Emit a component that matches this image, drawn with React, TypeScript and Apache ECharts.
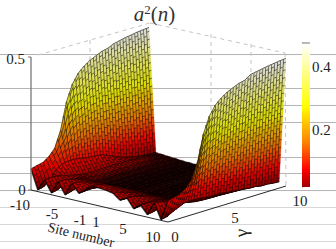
import React, { useEffect, useRef } from "react";
import * as echarts from "echarts";

const sites = [-10, -9, -8, -7, -6, -5, -4, -3, -2, -1, 1, 2, 3, 4, 5, 6, 7, 8, 9, 10];
const gammas = [0, 0.5, 1, 1.5, 2, 2.5, 3, 3.5, 4, 4.5, 5, 5.5, 6, 6.5, 7, 7.5, 8, 8.5, 9, 9.5, 10];
// a^2(n): one row per gamma, one column per site
const amp: number[][] = [
  [.08, .007, .05, .007, .055, .012, .06, .03, .05, .07, .065, .06, .04, .055, .02, .04, .01, .06, .003, .08],
  [.085, .012, .052, .012, .055, .018, .058, .032, .05, .066, .062, .056, .04, .052, .024, .04, .014, .056, .008, .085],
  [.09, .03, .05, .022, .05, .026, .052, .034, .046, .06, .056, .05, .038, .046, .028, .038, .02, .05, .02, .09],
  [.105, .06, .045, .03, .044, .03, .045, .032, .04, .05, .048, .042, .034, .04, .03, .034, .025, .04, .03, .105],
  [.13, .075, .04, .032, .036, .03, .036, .028, .032, .04, .038, .034, .03, .032, .026, .03, .024, .034, .04, .13],
  [.19, .08, .034, .03, .028, .024, .028, .022, .024, .028, .028, .026, .024, .024, .02, .022, .02, .028, .042, .19],
  [.29, .08, .03, .024, .018, .014, .014, .01, .012, .014, .014, .014, .014, .014, .012, .014, .014, .024, .04, .29],
  [.35, .078, .026, .02, .012, .008, .007, .005, .006, .006, .006, .006, .007, .007, .007, .009, .01, .018, .038, .35],
  [.385, .072, .026, .018, .011, .007, .005, .004, .004, .004, .004, .004, .005, .006, .006, .008, .01, .016, .036, .385],
  [.405, .07, .026, .018, .011, .006, .004, .003, .003, .003, .003, .003, .004, .005, .005, .007, .009, .015, .035, .405],
  [.42, .068, .027, .018, .011, .006, .004, .003, .003, .003, .003, .003, .004, .004, .005, .006, .009, .014, .035, .42],
  [.43, .064, .027, .018, .011, .006, .004, .003, .002, .002, .002, .003, .003, .004, .004, .006, .008, .014, .03, .43],
  [.44, .055, .027, .018, .011, .006, .004, .003, .002, .002, .002, .002, .003, .004, .004, .005, .008, .013, .03, .44],
  [.445, .045, .026, .018, .011, .006, .004, .002, .002, .002, .002, .002, .003, .003, .004, .005, .007, .012, .025, .445],
  [.455, .035, .025, .018, .011, .006, .004, .002, .002, .002, .002, .002, .002, .003, .004, .005, .007, .012, .025, .46],
  [.46, .028, .024, .017, .011, .006, .004, .002, .002, .002, .002, .002, .002, .003, .003, .005, .006, .011, .02, .464],
  [.465, .022, .022, .016, .01, .006, .004, .002, .002, .002, .002, .002, .002, .003, .003, .004, .006, .01, .02, .468],
  [.468, .018, .02, .014, .009, .006, .003, .002, .002, .001, .001, .002, .002, .002, .003, .004, .005, .01, .015, .472],
  [.472, .015, .016, .012, .008, .005, .003, .002, .001, .001, .001, .001, .002, .002, .003, .004, .005, .009, .015, .475],
  [.474, .013, .012, .01, .007, .004, .003, .002, .001, .001, .001, .001, .002, .002, .002, .003, .004, .008, .012, .478],
  [.476, .012, .01, .008, .006, .004, .003, .002, .001, .001, .001, .001, .001, .002, .002, .003, .004, .007, .01, .48],
];
const colorStops: [number, string][] = [
  [0, "#180000"], [0.012, "#500000"], [0.019, "#a00000"], [0.073, "#ff0000"],
  [0.16, "#ff8000"], [0.275, "#ffff00"], [0.476, "#ffffff"],
];
const barRange = [0.019, 0.476];
const barTicks = [0.2, 0.4];
const zTicks = [{ t: "0.5", x: 15.5, y: 59 }, { t: "0", x: 22, y: 190 }];
const siteLabels = [
  { t: "-10", x: 20, y: 205 }, { t: "-5", x: 52, y: 214 }, { t: "-1", x: 80, y: 220 },
  { t: "1", x: 96, y: 222 }, { t: "5", x: 123, y: 229 }, { t: "10", x: 153, y: 237 },
];
const gammaLabels = [
  { t: "0", x: 175, y: 237 }, { t: "5", x: 235, y: 218 }, { t: "10", x: 300, y: 201 },
];
const bgLines = [54.5, 88.5, 105.5, 122.5, 157.5, 173.5, 190.5, 207.5, 224.5, 241.5];

const px = (s: number, g: number) => 31 + (s + 10) * 6.85 + g * 11.8;
const py = (s: number, g: number, z: number) => 190 + (s + 10) * 1.6 - g * 3.6 - z * 266;

function hex(c: string) {
  return [1, 3, 5].map((k) => parseInt(c.slice(k, k + 2), 16));
}
function colorOf(z: number, shade = 1) {
  for (let k = 1; k < colorStops.length; k++) {
    if (z <= colorStops[k][0]) {
      const [a, ca] = colorStops[k - 1];
      const [b, cb] = colorStops[k];
      const f = Math.max(0, (z - a) / (b - a));
      const A = hex(ca), B = hex(cb);
      return `rgb(${A.map((v, q) => Math.round((v + (B[q] - v) * f) * shade)).join(",")})`;
    }
  }
  return `rgb(${Math.round(255 * shade)},${Math.round(255 * shade)},${Math.round(255 * shade)})`;
}

const cells: number[][] = [];
for (let j = gammas.length - 2; j >= 0; j--) for (let i = 0; i < sites.length - 1; i++) cells.push([i, j]);

function renderCell(_: any, api: any) {
  const i = api.value(0), j = api.value(1);
  const s0 = sites[i], s1 = sites[i + 1], g0 = gammas[j], g1 = gammas[j + 1];
  const z00 = amp[j][i], z10 = amp[j][i + 1], z01 = amp[j + 1][i], z11 = amp[j + 1][i + 1];
  const span = Math.max(Math.abs(z10 - z00), Math.abs(z11 - z01)) * 266;
  const nS = Math.max(2, Math.ceil(span / 8));
  const nG = 2;
  const zAt = (u: number, v: number) =>
    z00 * (1 - u) * (1 - v) + z10 * u * (1 - v) + z01 * (1 - u) * v + z11 * u * v;
  const P = (u: number, v: number) => {
    const s = s0 + (s1 - s0) * u, g = g0 + (g1 - g0) * v;
    return [px(s, g), py(s, g, zAt(u, v))];
  };
  const children: any[] = [];
  for (let b = nG - 1; b >= 0; b--) {
    const cuts = [0];
    const shift = b % 2 ? 0.5 : 0;
    for (let a = 0; a < nS + 1; a++) {
      const c = (a + shift) / nS;
      if (c > 0 && c < 1) cuts.push(c);
    }
    cuts.push(1);
    const v0 = b / nG, v1 = (b + 1) / nG;
    for (let a = 0; a < cuts.length - 1; a++) {
      const u0 = cuts[a], u1 = cuts[a + 1];
      const fill = colorOf(zAt((u0 + u1) / 2, (v0 + v1) / 2), 0.86);
      children.push({
        type: "polygon",
        shape: { points: [P(u0, v0), P(u1, v0), P(u1, v1), P(u0, v1)] },
        style: { fill, stroke: fill, lineWidth: 0.3 },
      });
    }
    // wires: the ones running across the sites are heavy, the cross wires light
    for (let a = 0; a < cuts.length; a++) {
      children.push({
        type: "polyline",
        shape: { points: [P(cuts[a], v0), P(cuts[a], v1)] },
        style: { fill: "none", stroke: "rgba(0,0,0,0.6)", lineWidth: 0.9 },
      });
    }
    children.push({
      type: "polyline",
      shape: { points: [P(0, v0), P(1, v0)] },
      style: { fill: "none", stroke: "rgba(0,0,0,0.72)", lineWidth: 1.6 },
    });
  }
  return { type: "group", children };
}

const frameColor = "#777";
function dash(x1: number, y1: number, x2: number, y2: number) {
  return {
    type: "line", z: 1, silent: true,
    shape: { x1, y1, x2, y2 },
    style: { stroke: "#c4c4c4", lineWidth: 1, lineDash: [4, 4] },
  };
}
function line(x1: number, y1: number, x2: number, y2: number, stroke: string, lineWidth = 1) {
  return { type: "line", z: 5, silent: true, shape: { x1, y1, x2, y2 }, style: { stroke, lineWidth } };
}
const serif = "'Liberation Serif'";
function label(t: string, x: number, y: number, size = 15, rotation = 0) {
  return {
    type: "text", z: 6, silent: true, x, y, rotation,
    style: {
      text: t, fontFamily: serif, fontSize: size, fill: "#222", align: "center",
      verticalAlign: "middle", lineHeight: 12,
    },
  };
}

export default function App() {
  const ref = useRef<HTMLDivElement>(null);
  useEffect(() => {
    const chart = echarts.init(ref.current!, undefined, { renderer: "svg" });
    const gradient = {
      type: "linear", x: 0, y: 1, x2: 0, y2: 0,
      colorStops: colorStops
        .filter((c) => c[0] >= barRange[0])
        .map((c) => ({ offset: (c[0] - barRange[0]) / (barRange[1] - barRange[0]), color: c[1] })),
    };
    chart.setOption({
      animation: false,
      backgroundColor: "#fff",
      grid: { left: 302, top: 43, width: 8, height: 144 },
      xAxis: { type: "value", min: 0, max: 1, show: false },
      yAxis: {
        type: "value", position: "right", min: barRange[0], max: barRange[1],
        splitLine: { show: false },
        axisLine: { show: true, lineStyle: { color: frameColor, width: 1 } },
        axisTick: { show: false },
        axisLabel: {
          customValues: barTicks, formatter: (v: number) => v.toFixed(1), margin: 2,
          fontFamily: serif, fontSize: 15, color: "#222",
        },
      },
      graphic: [
        ...bgLines.map((y) => ({
          type: "line", z: 0, silent: true,
          shape: { x1: 0, y1: y, x2: 336, y2: y },
          style: { stroke: y > 200 ? "#d8d8d8" : "#b4b4b4", lineWidth: 1 },
        })),
        dash(38, 55, 150, 23), dash(150, 23, 285, 53), dash(285, 53, 286, 186),
        dash(90, 40, 90, 172), dash(211, 34, 211, 168), dash(251, 44, 251, 178),
        line(31, 57, 31, 190, frameColor, 1.3), line(28, 57, 31, 57, frameColor, 1),
        line(28, 190, 31, 190, frameColor, 1),
        line(31, 190, 168, 222, "#111", 0.9), line(168, 222, 286, 186, "#111", 0.9),
        line(302, 43, 310, 43, frameColor, 1),
        ...zTicks.map((l) => label(l.t, l.x, l.y)),
        ...siteLabels.map((l) => label(l.t, l.x, l.y)),
        ...gammaLabels.map((l) => label(l.t, l.x, l.y)),
        label("Site number", 81, 235, 14, 0 - 0.24),
        label("γ", 241, 233, 19, 1.57),
        {
          type: "text", z: 6, silent: true, x: 154.5, y: 14,
          style: {
            text: "{i|a}{s|2}{r|(}{i|n}{r|)}", align: "center", verticalAlign: "middle",
            rich: {
              i: { fontFamily: serif, fontStyle: "italic", fontSize: 21, fill: "#333", lineHeight: 22 },
              r: { fontFamily: serif, fontSize: 21, fill: "#333", lineHeight: 22 },
              s: { fontFamily: serif, fontSize: 13, fill: "#333", lineHeight: 22, verticalAlign: "top" },
            },
          },
        },
      ],
      series: [
        {
          type: "custom", coordinateSystem: "none", z: 3, silent: true,
          data: cells, renderItem: renderCell,
        },
        {
          type: "custom", coordinateSystem: "cartesian2d", z: 3, silent: true,
          data: [[0, barRange[0], 1, barRange[1]]],
          encode: { x: [0, 2], y: [1, 3] },
          renderItem: (_: any, api: any) => {
            const a = api.coord([0, barRange[0]]);
            const b = api.coord([1, barRange[1]]);
            return {
              type: "rect",
              shape: { x: a[0], y: b[1], width: b[0] - a[0], height: a[1] - b[1] },
              style: { fill: gradient },
            };
          },
        },
      ],
    });
    return () => chart.dispose();
  }, []);
  return <div ref={ref} style={{ position: "fixed", left: 0, top: 0, width: 336, height: 249 }} />;
}
